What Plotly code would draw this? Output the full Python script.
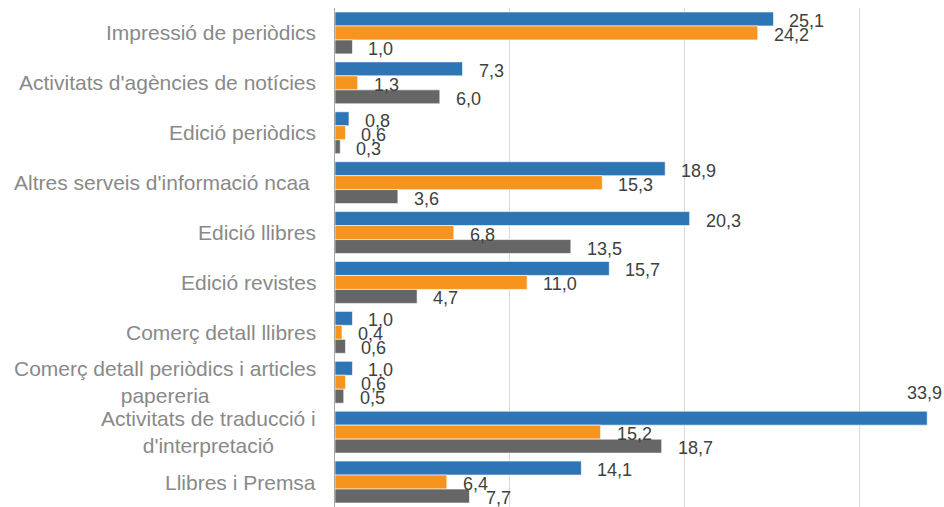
import plotly.graph_objects as go

categories = [
    "Impressió de periòdics",
    "Activitats d'agències de notícies",
    "Edició periòdics",
    "Altres serveis d'informació ncaa ",
    "Edició llibres",
    "Edició revistes",
    "Comerç detall llibres",
    "Comerç detall periòdics i articles<br>papereria",
    "Activitats de traducció i<br>d'interpretació",
    "Llibres i Premsa",
]
serie_1 = [25.1, 7.3, 0.8, 18.9, 20.3, 15.7, 1.0, 1.0, 33.9, 14.1]
serie_2 = [24.2, 1.3, 0.6, 15.3, 6.8, 11.0, 0.4, 0.6, 15.2, 6.4]
serie_3 = [1.0, 6.0, 0.3, 3.6, 13.5, 4.7, 0.6, 0.5, 18.7, 7.7]
series_names = ["Sèrie 1", "Sèrie 2", "Sèrie 3"]
colors = ["#2E75B6", "#F7941D", "#666666"]

series = [serie_1, serie_2, serie_3]
x_max = 34.86
bargap = 0.16

fig = go.Figure()
for name, vals, col in zip(series_names, series, colors):
    fig.add_trace(go.Bar(
        y=list(range(len(categories))), x=vals, orientation="h", name=name,
        marker=dict(color=col, line=dict(color="white", width=0.6)),
        hoverinfo="x",
    ))

annotations = []
bar_w = (1 - bargap) / len(series)
for k, vals in enumerate(series):
    off = (k - (len(series) - 1) / 2) * bar_w
    for i, v in enumerate(vals):
        txt = f"{v:.1f}".replace(".", ",")
        if v > x_max - 2.5:
            annotations.append(dict(x=v, y=i + off, text=txt, showarrow=False,
                                    xanchor="center", xshift=-3, yshift=25,
                                    font=dict(size=18, color="#404040")))
        else:
            annotations.append(dict(x=v, y=i + off, text=txt, showarrow=False,
                                    xanchor="left", xshift=14, yshift=-2,
                                    font=dict(size=18, color="#404040")))

for i, c in enumerate(categories):
    annotations.append(dict(xref="paper", x=0, y=i, text=c, showarrow=False,
                            xanchor="right", xshift=-17, align="center",
                            font=dict(size=21, color="#898989")))

fig.update_layout(
    width=944, height=507,
    margin=dict(l=335, r=0, t=8, b=0),
    barmode="group", bargap=bargap, bargroupgap=0,
    plot_bgcolor="white", paper_bgcolor="white",
    showlegend=False,
    font=dict(family="Liberation Sans, Arial, sans-serif"),
    annotations=annotations,
    xaxis=dict(range=[0, x_max], dtick=10, showgrid=True, gridcolor="#D9D9D9",
               gridwidth=1, showticklabels=False, zeroline=False, ticks=""),
    yaxis=dict(range=[len(categories) - 0.5, -0.5], showticklabels=False,
               showgrid=False, zeroline=False, showline=True,
               linecolor="#A6A6A6", linewidth=1, ticks=""),
)

fig.write_html(
    "out.html",
    config={"displayModeBar": False},
    post_script="document.body.style.margin='0';document.body.style.overflow='hidden';",
)
